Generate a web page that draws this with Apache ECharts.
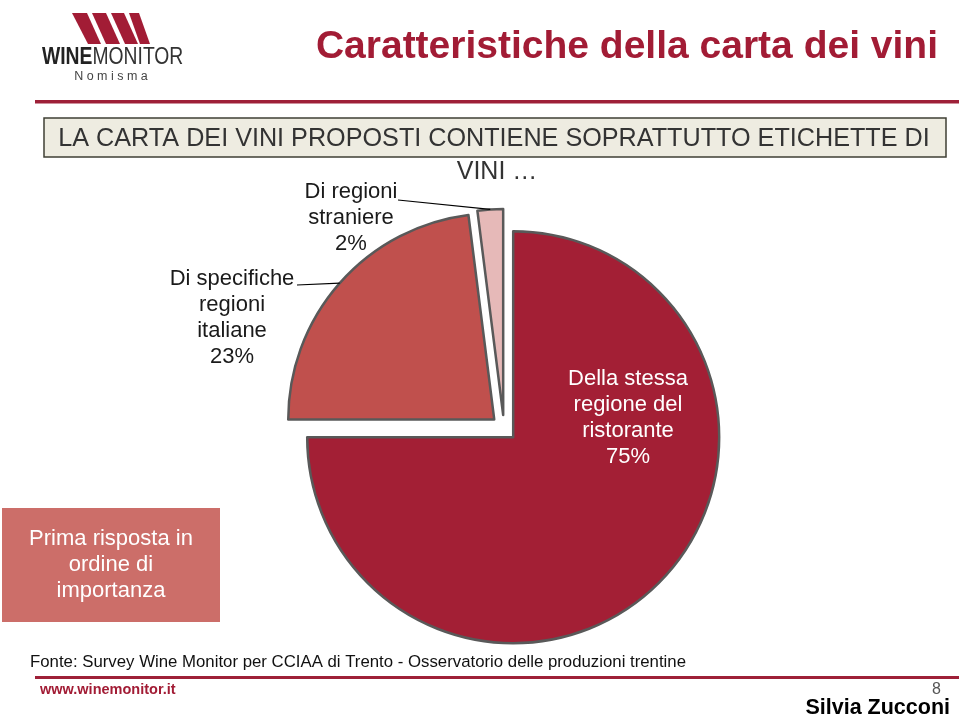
<!DOCTYPE html>
<html>
<head>
<meta charset="utf-8">
<style>
html,body{margin:0;padding:0;background:#fff;}
#chart{width:959px;height:718px;}
</style>
<script src="https://cdn.jsdelivr.net/npm/echarts@6/dist/echarts.min.js"></script>
</head>
<body>
<div id="chart"></div>
<script>
// ---- data ----
const categories = ['Della stessa\nregione del\nristorante', 'Di specifiche\nregioni\nitaliane', 'Di regioni\nstraniere'];
const values = [75, 23, 2];
const sliceColors = ['#A31F35', '#C0504D', '#E6B9B8'];
const labelColors = ['#ffffff', '#1a1a1a', '#1a1a1a'];

// ---- layout ----
const FONT = '"Liberation Sans", Arial, Helvetica, sans-serif';
const CRIMSON = '#A21C35';
const PIE_CENTER = [504, 428];
const PIE_R = 206;
const PIE_OFFSET = 13;
const labelPos = [[628, 418], [232, 318], [351, 218]];      // label text centres
const leaderStart = [null, [297, 285], [398, 200]];          // leader line start next to the text

const chart = echarts.init(document.getElementById('chart'), null, {renderer: 'canvas'});

const dataItems = categories.map((c, i) => ({
  name: c,
  value: values[i],
  selected: true,
  itemStyle: {color: sliceColors[i]}
}));

// arc point at the middle angle of a (selected / exploded) slice, for leader lines
const total = values.reduce((a, b) => a + b, 0);
function midArcPoint(idx) {
  let start = 0;
  for (let k = 0; k < idx; k++) start += values[k];
  const midFrac = (start + values[idx] / 2) / total;
  const ang = midFrac * 2 * Math.PI; // clockwise from 12 o'clock
  const dx = Math.sin(ang), dy = -Math.cos(ang);
  return [PIE_CENTER[0] + dx * (PIE_OFFSET + PIE_R), PIE_CENTER[1] + dy * (PIE_OFFSET + PIE_R)];
}

const labelGraphics = [];
categories.forEach((c, i) => {
  labelGraphics.push({
    type: 'text', z: 100, x: labelPos[i][0], y: labelPos[i][1], silent: true,
    style: {text: c + '\n' + values[i] + '%', fontFamily: FONT, fontSize: 22, lineHeight: 26,
      fill: labelColors[i], align: 'center', textAlign: 'center', verticalAlign: 'middle', textVerticalAlign: 'middle'}
  });
  if (leaderStart[i]) {
    const end = midArcPoint(i);
    labelGraphics.push({
      type: 'polyline', z: 100, silent: true,
      shape: {points: [leaderStart[i], end]},
      style: {stroke: '#000', lineWidth: 1.2, fill: null}
    });
  }
});

const option = {
  animation: false,
  graphic: [
    // logo mark
    {type: 'polygon', shape: {points: [[72,13],[87,13],[101,44],[88,44]]}, style: {fill: CRIMSON}},
    {type: 'polygon', shape: {points: [[92,13],[106,13],[120,44],[106,44]]}, style: {fill: CRIMSON}},
    {type: 'polygon', shape: {points: [[111,13],[124,13],[138,44],[125,44]]}, style: {fill: CRIMSON}},
    {type: 'polygon', shape: {points: [[129,13],[139,13],[150,44],[140,44]]}, style: {fill: CRIMSON}},
    {type: 'text', x: 42, y: 58, scaleX: 0.84, style: {
      text: '{b|WINE}{n|MONITOR}', verticalAlign: 'middle', textVerticalAlign: 'middle',
      rich: {
        b: {fontFamily: FONT, fontSize: 23, fontWeight: 'bold', fill: '#222', color: '#222'},
        n: {fontFamily: FONT, fontSize: 23, fontWeight: 'normal', fill: '#333', color: '#333'}
      }
    }},
    {type: 'text', x: 111, y: 77, style: {text: 'N o m i s m a', fontFamily: FONT, fontSize: 12.5, fill: '#444',
      align: 'center', textAlign: 'center', verticalAlign: 'middle', textVerticalAlign: 'middle'}},
    // title
    {type: 'text', x: 938, y: 47, style: {text: 'Caratteristiche della carta dei vini', fontFamily: FONT,
      fontSize: 39, fontWeight: 'bold', fill: CRIMSON, align: 'right', textAlign: 'right',
      verticalAlign: 'middle', textVerticalAlign: 'middle'}},
    // top rule
    {type: 'rect', shape: {x: 35, y: 100, width: 924, height: 3.5}, style: {fill: '#9E2038'}},
    // header box
    {type: 'rect', shape: {x: 44, y: 118, width: 902, height: 39}, style: {fill: '#EEECE1', stroke: '#3f3f35', lineWidth: 1.5}},
    {type: 'text', x: 494, y: 139, style: {text: 'LA CARTA DEI VINI PROPOSTI CONTIENE SOPRATTUTTO ETICHETTE DI',
      fontFamily: FONT, fontSize: 25.2, fill: '#333333', align: 'center', textAlign: 'center',
      verticalAlign: 'middle', textVerticalAlign: 'middle'}},
    {type: 'text', x: 497, y: 172, style: {text: 'VINI \u2026', fontFamily: FONT, fontSize: 25, fill: '#333333',
      align: 'center', textAlign: 'center', verticalAlign: 'middle', textVerticalAlign: 'middle'}},
    // side note box
    {type: 'rect', shape: {x: 2, y: 508, width: 218, height: 114}, style: {fill: '#CC6E69'}},
    {type: 'text', x: 111, y: 565, style: {text: 'Prima risposta in\nordine di\nimportanza', fontFamily: FONT,
      fontSize: 22, lineHeight: 26, fill: '#ffffff', align: 'center', textAlign: 'center',
      verticalAlign: 'middle', textVerticalAlign: 'middle'}},
    // footer
    {type: 'text', x: 30, y: 662, style: {text: 'Fonte: Survey Wine Monitor per CCIAA di Trento - Osservatorio delle produzioni trentine',
      fontFamily: FONT, fontSize: 16.8, fill: '#111', verticalAlign: 'middle', textVerticalAlign: 'middle'}},
    {type: 'rect', shape: {x: 35, y: 676, width: 924, height: 3}, style: {fill: '#9E2038'}},
    {type: 'text', x: 40, y: 690, style: {text: 'www.winemonitor.it', fontFamily: FONT, fontSize: 14.5, fontWeight: 'bold',
      fill: CRIMSON, verticalAlign: 'middle', textVerticalAlign: 'middle'}},
    {type: 'text', x: 941, y: 690, style: {text: '8', fontFamily: FONT, fontSize: 16, fill: '#555',
      align: 'right', textAlign: 'right', verticalAlign: 'middle', textVerticalAlign: 'middle'}},
    {type: 'text', x: 950, y: 708, style: {text: 'Silvia Zucconi', fontFamily: FONT, fontSize: 21.5, fontWeight: 'bold',
      fill: '#000', align: 'right', textAlign: 'right', verticalAlign: 'middle', textVerticalAlign: 'middle'}}
  ].concat(labelGraphics),
  series: [{
    type: 'pie',
    z: 2,
    center: PIE_CENTER,
    radius: [0, PIE_R],
    startAngle: 90,
    clockwise: true,
    selectedMode: 'multiple',
    selectedOffset: PIE_OFFSET,
    emphasis: {disabled: true},
    itemStyle: {borderColor: '#595959', borderWidth: 2.5},
    label: {show: false},
    labelLine: {show: false},
    data: dataItems
  }]
};
chart.setOption(option);
</script>
</body>
</html>
